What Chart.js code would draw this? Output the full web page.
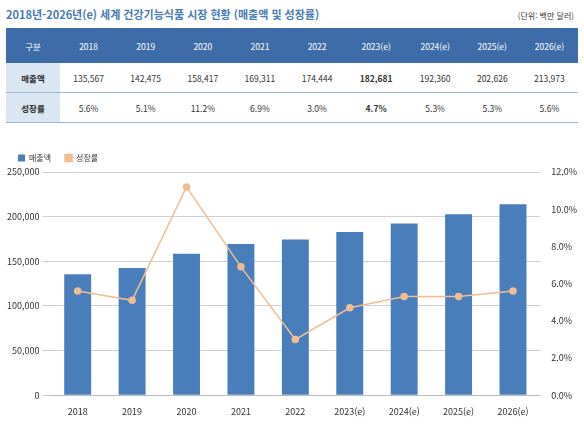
<!DOCTYPE html>
<html lang="ko">
<head>
<meta charset="UTF-8">
<title>세계 건강기능식품 시장 현황</title>
<script src="https://cdn.jsdelivr.net/npm/chart.js"></script>
<style>
  body { margin: 0; width: 584px; height: 428px; background: #fff; font-family: "Noto Sans CJK KR", "Noto Sans", sans-serif; overflow: hidden; }
  .title { position: absolute; left: 6px; top: 6px; font-size: 11px; font-weight: bold; color: #4a7ab5; }
  .unit { position: absolute; right: 10px; top: 10px; font-size: 8px; color: #333; }
  table { position: absolute; left: 6px; top: 28px; width: 572px; border-collapse: collapse; font-size: 8.5px; color: #333; }
  th { background: #3e6ca8; color: #fff; font-weight: normal; height: 33px; }
  td { text-align: center; height: 27px; border-bottom: 1px solid #9bb5d6; }
  td.lab { background: #dbe6f3; font-weight: bold; width: 52px; }
  .b { font-weight: bold; }
  #wrap { position: absolute; left: 0; top: 140px; width: 584px; height: 288px; }
</style>
</head>
<body>
<div class="title">2018년-2026년(e) 세계 건강기능식품 시장 현황 (매출액 및 성장률)</div>
<div class="unit">(단위: 백만 달러)</div>
<table id="tbl"></table>
<div id="wrap"><canvas id="chart"></canvas></div>
<script>
  // data
  const years = ['2018', '2019', '2020', '2021', '2022', '2023(e)', '2024(e)', '2025(e)', '2026(e)'];
  const sales = [135567, 142475, 158417, 169311, 174444, 182681, 192360, 202626, 213973];
  const growth = [5.6, 5.1, 11.2, 6.9, 3.0, 4.7, 5.3, 5.3, 5.6];

  // table
  const tbl = document.getElementById('tbl');
  let html = '<tr><th>구분</th>' + years.map(y => '<th>' + y + '</th>').join('') + '</tr>';
  html += '<tr><td class="lab">매출액</td>' + sales.map((v, i) =>
    '<td' + (i === 5 ? ' class="b"' : '') + '>' + v.toLocaleString('en-US') + '</td>').join('') + '</tr>';
  html += '<tr><td class="lab">성장률</td>' + growth.map((v, i) =>
    '<td' + (i === 5 ? ' class="b"' : '') + '>' + v.toFixed(1) + '%</td>').join('') + '</tr>';
  tbl.innerHTML = html;

  Chart.defaults.font.family = '"Noto Sans CJK KR", "Noto Sans", sans-serif';
  Chart.defaults.font.size = 9;
  Chart.defaults.color = '#333';

  new Chart(document.getElementById('chart'), {
    type: 'bar',
    data: {
      labels: years,
      datasets: [
        { type: 'line', label: '성장률', data: growth, yAxisID: 'y1', borderColor: '#f0bd92',
          backgroundColor: '#f0bd92', borderWidth: 1.5, pointRadius: 3, pointStyle: 'circle', order: 0 },
        { label: '매출액', data: sales, yAxisID: 'y', backgroundColor: '#4a7ebb',
          barPercentage: 0.55, categoryPercentage: 0.9, order: 1 }
      ]
    },
    options: {
      responsive: true,
      maintainAspectRatio: false,
      animation: false,
      layout: { padding: { left: 4, right: 4, bottom: 8 } },
      plugins: {
        legend: { position: 'top', align: 'start', reverse: true,
          labels: { boxWidth: 7, boxHeight: 7, padding: 14, font: { size: 8 } } },
        tooltip: { enabled: false }
      },
      scales: {
        x: { grid: { display: false }, ticks: { font: { size: 9 } } },
        y: { min: 0, max: 250000, ticks: { stepSize: 50000, callback: v => v.toLocaleString('en-US') },
             grid: { color: '#d0d0d0' }, border: { display: false } },
        y1: { position: 'right', min: 0, max: 12, ticks: { stepSize: 2, callback: v => v.toFixed(1) + '%' },
              grid: { display: false }, border: { display: false } }
      }
    }
  });
</script>
</body>
</html>
